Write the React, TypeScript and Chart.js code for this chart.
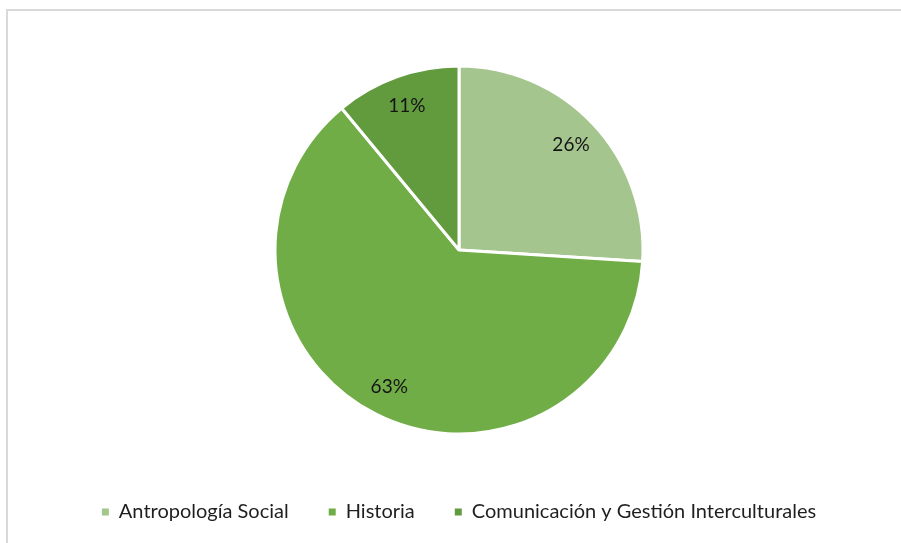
import React, { useEffect, useRef } from "react";
import { Chart, registerables } from "chart.js";

Chart.register(...registerables);

const categories = ["Antropología Social", "Historia", "Comunicación y Gestión Interculturales"];
const values = [26, 63, 11];
const percentLabels = ["26%", "63%", "11%"];
const colors = ["#A5C58F", "#70AD47", "#629B3E"];

const FONT = "Lato, 'Open Sans', sans-serif";

const framePlugin = {
  id: "frame",
  beforeDraw(chart: any) {
    const ctx = chart.ctx;
    ctx.save();
    ctx.fillStyle = "#ffffff";
    ctx.fillRect(0, 0, chart.width, chart.height);
    ctx.strokeStyle = "#d9d9d9";
    ctx.lineWidth = 2;
    ctx.strokeRect(7, 10, chart.width + 100, chart.height + 100);
    ctx.restore();
  },
};

const labelPlugin = {
  id: "sliceLabels",
  afterDatasetsDraw(chart: any) {
    const ctx = chart.ctx;
    const meta = chart.getDatasetMeta(0);
    ctx.save();
    ctx.font = `19px ${FONT}`;
    ctx.fillStyle = "#141414";
    ctx.textAlign = "center";
    ctx.textBaseline = "middle";
    meta.data.forEach((arc: any, i: number) => {
      const p = arc.getProps(["x", "y", "startAngle", "endAngle", "outerRadius"], true);
      const mid = (p.startAngle + p.endAngle) / 2;
      const r = p.outerRadius * 0.835;
      ctx.fillText(percentLabels[i], p.x + Math.cos(mid) * r, p.y + Math.sin(mid) * r);
    });
    ctx.restore();
  },
};

export default function App() {
  const ref = useRef<HTMLCanvasElement>(null);
  useEffect(() => {
    if (!ref.current) return;
    const chart = new Chart(ref.current, {
      type: "pie",
      data: {
        labels: categories,
        datasets: [
          {
            data: values,
            backgroundColor: colors,
            borderColor: "#ffffff",
            borderWidth: 3,
          },
        ],
      },
      options: {
        animation: false,
        responsive: true,
        maintainAspectRatio: false,
        radius: 184,
        layout: { padding: { left: 17, right: 0, top: 38, bottom: 11 } },
        plugins: {
          tooltip: { enabled: false },
          legend: {
            position: "bottom",
            labels: {
              boxWidth: 7,
              boxHeight: 7,
              padding: 40,
              color: "#1f1f1f",
              font: { family: FONT, size: 20 },
              generateLabels(chart: any) {
                const items = Chart.overrides.pie.plugins.legend.labels.generateLabels(chart);
                return items.map((it: any) => ({ ...it, lineWidth: 0, strokeStyle: it.fillStyle }));
              },
            },
          },
        },
      } as any,
      plugins: [framePlugin, labelPlugin],
    });
    return () => chart.destroy();
  }, []);
  return (
    <div style={{ position: "fixed", left: 0, top: 0, width: 901, height: 543, background: "#fff" }}>
      <canvas ref={ref} />
    </div>
  );
}
